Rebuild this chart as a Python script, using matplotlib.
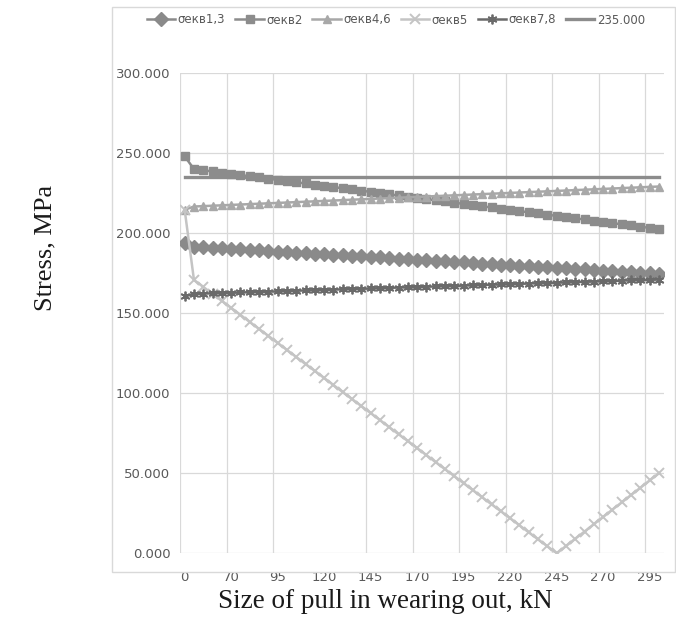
import matplotlib
matplotlib.use("Agg")
import matplotlib.pyplot as plt
from matplotlib.patches import Rectangle

categories = [0, 50, 55, 60, 65, 70, 75, 80, 85, 90, 95, 100, 105, 110, 115, 120,
              125, 130, 135, 140, 145, 150, 155, 160, 165, 170, 175, 180, 185, 190,
              195, 200, 205, 210, 215, 220, 225, 230, 235, 240, 245, 250, 255, 260,
              265, 270, 275, 280, 285, 290, 295, 300]

s13 = [193.7, 191.6, 191.3, 190.9, 190.6, 190.2, 189.9, 189.5, 189.2, 188.9, 188.5,
       188.2, 187.8, 187.5, 187.2, 186.8, 186.5, 186.1, 185.8, 185.4, 185.1, 184.8,
       184.4, 184.1, 183.7, 183.4, 183.1, 182.7, 182.4, 182.0, 181.7, 181.3, 181.0,
       180.7, 180.3, 180.0, 179.6, 179.3, 179.0, 178.6, 178.3, 177.9, 177.6, 177.3,
       176.9, 176.6, 176.2, 175.9, 175.5, 175.2, 174.9, 174.5]

s2 = [248.0, 240.0, 239.25, 238.5, 237.75, 237.0, 236.25, 235.5, 234.75, 234.0, 233.25,
      232.5, 231.75, 231.0, 230.25, 229.5, 228.75, 228.0, 227.25, 226.5, 225.75, 225.0,
      224.25, 223.5, 222.75, 222.0, 221.25, 220.5, 219.75, 219.0, 218.25, 217.5, 216.75,
      216.0, 215.25, 214.5, 213.75, 213.0, 212.25, 211.5, 210.75, 210.0, 209.25, 208.5,
      207.75, 207.0, 206.25, 205.5, 204.75, 204.0, 203.25, 202.5]

s46 = [214.6, 216.6, 216.85, 217.1, 217.35, 217.6, 217.85, 218.1, 218.35, 218.6, 218.85,
       219.1, 219.35, 219.6, 219.85, 220.1, 220.35, 220.6, 220.85, 221.1, 221.35, 221.6,
       221.85, 222.1, 222.35, 222.6, 222.85, 223.1, 223.35, 223.6, 223.85, 224.1, 224.35,
       224.6, 224.85, 225.1, 225.35, 225.6, 225.85, 226.1, 226.35, 226.6, 226.85, 227.1,
       227.35, 227.6, 227.85, 228.1, 228.35, 228.6, 228.85, 229.1]

s5 = [214.6, 170.8, 166.4, 162.0, 157.7, 153.3, 148.9, 144.5, 140.1, 135.8, 131.4,
      127.0, 122.6, 118.2, 113.9, 109.5, 105.1, 100.7, 96.3, 92.0, 87.6, 83.2,
      78.8, 74.4, 70.1, 65.7, 61.3, 56.9, 52.5, 48.2, 43.8, 39.4, 35.0,
      30.6, 26.3, 21.9, 17.5, 13.1, 8.7, 4.4, 0.0, 4.5, 9.1, 13.6,
      18.2, 22.7, 27.3, 31.8, 36.4, 40.9, 45.5, 50.0]

s78 = [160.4, 162.0, 162.2, 162.4, 162.5, 162.7, 162.9, 163.1, 163.3, 163.4, 163.6,
       163.8, 164.0, 164.2, 164.3, 164.5, 164.7, 164.9, 165.1, 165.2, 165.4, 165.6,
       165.8, 166.0, 166.1, 166.3, 166.5, 166.7, 166.9, 167.0, 167.2, 167.4, 167.6,
       167.8, 167.9, 168.1, 168.3, 168.5, 168.7, 168.8, 169.0, 169.2, 169.4, 169.6,
       169.7, 169.9, 170.1, 170.3, 170.5, 170.6, 170.8, 171.0]

limit = [235.0] * len(categories)

series_names = ["σекв1,3", "σекв2", "σекв4,6", "σекв5", "σекв7,8", "235.000"]
y_ticks = [0, 50, 100, 150, 200, 250, 300]
x_label_every = 5

W, H = 676, 629
fig = plt.figure(figsize=(W / 100, H / 100), dpi=100)
fig.patch.set_facecolor("white")

# chart-area border
fig.patches.append(Rectangle((112 / W, 1 - 572 / H), (675 - 112) / W, (572 - 7) / H,
                             transform=fig.transFigure, fill=False,
                             edgecolor="#d9d9d9", linewidth=1.0))

ax = fig.add_axes([180 / W, 1 - 553.3 / H, 483.6 / W, 480.3 / H])
x = list(range(len(categories)))

styles = [
    dict(color="#8a8a8a", marker="D", markersize=7),
    dict(color="#8c8c8c", marker="s", markersize=5.8),
    dict(color="#a8a8a8", marker="^", markersize=6),
    dict(color="#c4c4c4", marker="x", markersize=7, markeredgewidth=1.4),
    dict(color="#6a6a6a", marker=(6, 2, 0), markersize=7, markeredgewidth=1.3),
]
for vals, name, st in zip([s13, s2, s46, s5, s78], series_names[:5], styles):
    ax.plot(x, vals, label=name, linewidth=1.8, **st)
ax.plot(x, limit, color="#8c8c8c", linewidth=2.4, label=series_names[5])

ax.set_xlim(-0.5, len(categories) - 0.5)
ax.set_ylim(0, 300)

# gridlines
for yv in y_ticks:
    ax.axhline(yv, color="#d9d9d9", linewidth=0.9, zorder=0)
for b in range(0, len(categories) - 1, x_label_every):
    if b == 15:
        continue
    ax.axvline(b - 0.5, color="#d9d9d9", linewidth=0.9, zorder=0)

for sp in ax.spines.values():
    sp.set_visible(False)

ax.set_yticks(y_ticks)
ax.set_yticklabels([f"{v:.3f}" for v in y_ticks])
xt = list(range(0, len(categories), x_label_every))
ax.set_xticks(xt)
ax.set_xticklabels([str(categories[i]) for i in xt])
ax.tick_params(axis="both", length=0, colors="#595959", labelsize=9.5)
ax.tick_params(axis="y", pad=7)
ax.tick_params(axis="x", pad=13)

fig.text(45 / W, 1 - 248 / H, "Stress, MPa", rotation=90, ha="center", va="center",
         family="Liberation Serif", fontsize=19, color="#1a1a1a")
fig.text(385 / W, 1 - 602 / H, "Size of pull in wearing out, kN", ha="center",
         va="center", family="Liberation Serif", fontsize=19.5, color="#1a1a1a")

leg = ax.legend(loc="center", bbox_to_anchor=(396 / W, 1 - 20 / H),
                bbox_transform=fig.transFigure, ncol=6, frameon=False,
                handlelength=2.4, handletextpad=0.2, columnspacing=0.85,
                fontsize=8.5, labelcolor="#595959", borderpad=0.2)

fig.savefig("out.png", dpi=100)
